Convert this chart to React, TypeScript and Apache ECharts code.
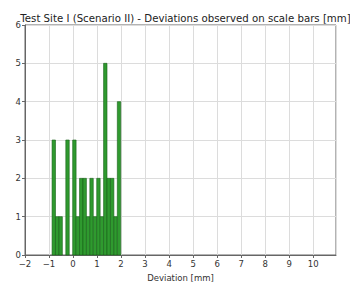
import React, { useEffect, useRef } from "react";
import * as echarts from "echarts";

const titleText = "Test Site I (Scenario II) - Deviations observed on scale bars [mm]";
const xAxisName = "Deviation [mm]";
const binEdges = [
  -0.873, -0.73, -0.587, -0.444, -0.301, -0.158, -0.015, 0.128, 0.271, 0.414, 0.557,
  0.7, 0.843, 0.986, 1.129, 1.272, 1.415, 1.558, 1.701, 1.844, 1.987,
];
const counts = [3, 1, 1, 0, 3, 0, 3, 1, 2, 2, 1, 2, 1, 2, 1, 5, 2, 2, 1, 4];
const xMin = -2;
const xMax = 10.95;
const yMin = 0;
const yMax = 6;

const fmtNum = (v: number) => (v < 0 ? "\u2212" + Math.abs(v) : String(v));

export default function App() {
  const ref = useRef<HTMLDivElement>(null);
  useEffect(() => {
    if (!ref.current) return;
    const chart = echarts.init(ref.current, null, { renderer: "svg" });
    const rows = counts.map((c, i) => [binEdges[i], binEdges[i + 1], c]);
    const font = "DejaVu Sans";
    chart.setOption({
      animation: false,
      backgroundColor: "#ffffff",
      title: {
        text: titleText,
        left: 180.5,
        textAlign: "center",
        top: 8,
        textStyle: { fontFamily: font, fontSize: 10.2, fontWeight: "normal", color: "#222" },
      },
      grid: {
        left: 25,
        top: 25,
        width: 311,
        height: 233,
        show: true,
        borderColor: "#666",
        borderWidth: 1,
        backgroundColor: "transparent",
      },
      xAxis: {
        type: "value",
        min: xMin,
        max: xMax,
        interval: 1,
        name: xAxisName,
        nameLocation: "middle",
        nameGap: 18,
        nameTextStyle: { fontFamily: font, fontSize: 8.5, color: "#333" },
        axisLine: { show: true, onZero: false, lineStyle: { color: "#666", width: 1 } },
        axisTick: { show: true, length: 3, lineStyle: { color: "#666" } },
        axisLabel: {
          showMaxLabel: false,
          fontFamily: font,
          fontSize: 8.5,
          color: "#333",
          margin: 4,
          formatter: (v: number) => fmtNum(v),
        },
        splitLine: { show: true, lineStyle: { color: "#dcdcdc", width: 1 } },
      },
      yAxis: {
        type: "value",
        min: yMin,
        max: yMax,
        interval: 1,
        axisLine: { show: true, onZero: false, lineStyle: { color: "#666", width: 1 } },
        axisTick: { show: true, length: 3, lineStyle: { color: "#666" } },
        axisLabel: { fontFamily: font, fontSize: 8.5, color: "#333", margin: 4 },
        splitLine: { show: true, lineStyle: { color: "#dcdcdc", width: 1 } },
      },
      series: [
        {
          type: "custom",
          data: rows,
          encode: { x: [0, 1], y: 2 },
          renderItem: (params: any, api: any) => {
            const c = api.value(2);
            if (!c) return null;
            const p0 = api.coord([api.value(0), c]);
            const p1 = api.coord([api.value(1), 0]);
            return {
              type: "rect",
              shape: { x: p0[0], y: p0[1], width: p1[0] - p0[0], height: p1[1] - p0[1] },
              style: { fill: "#2f9a2f", stroke: "#175f17", lineWidth: 0.6 },
            };
          },
        },
      ],
    });
    return () => chart.dispose();
  }, []);
  return (
    <div
      ref={ref}
      style={{ position: "fixed", left: 0, top: 0, width: 350, height: 287, background: "#fff" }}
    />
  );
}
